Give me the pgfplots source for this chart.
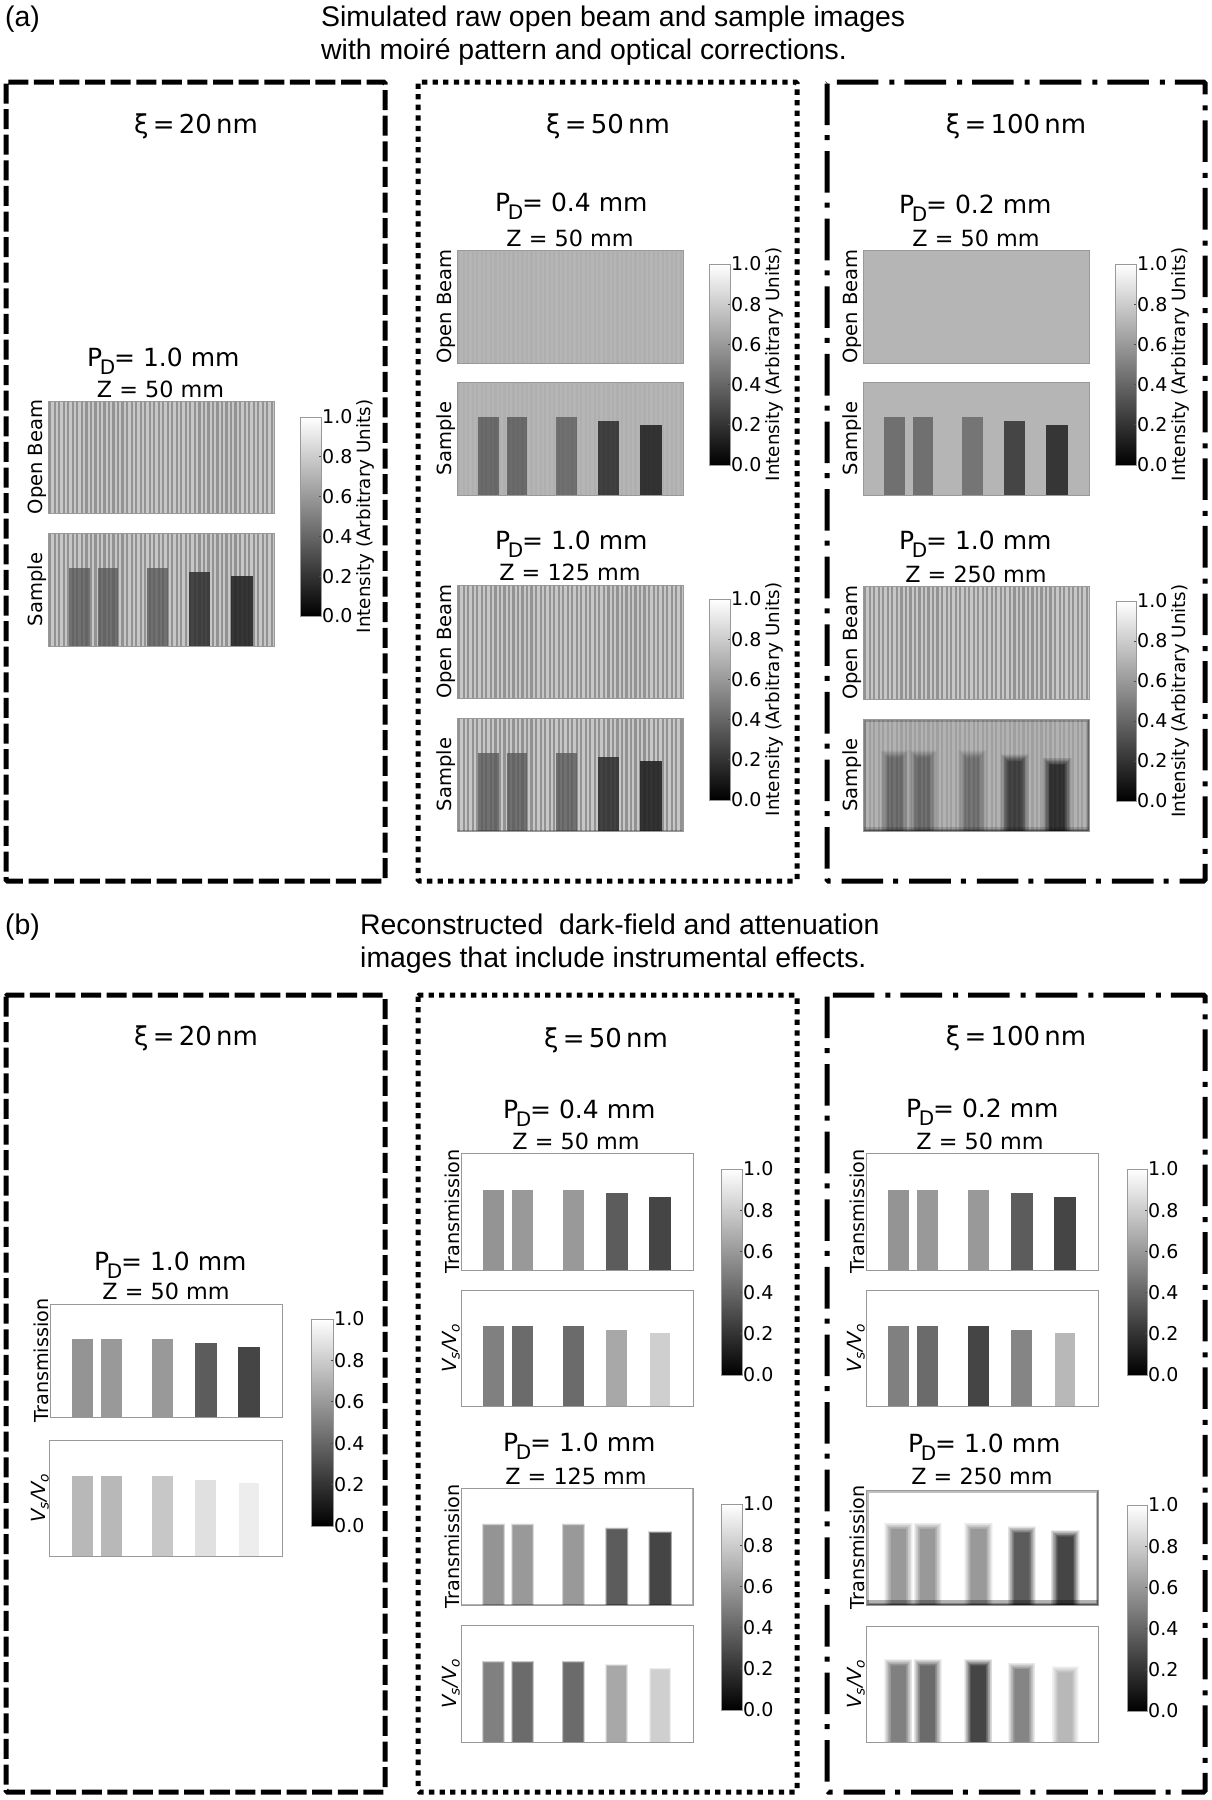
\documentclass[border=0pt]{standalone}
\usepackage{fontspec}
\setmainfont{DejaVu Sans}
\newfontfamily\lib{Liberation Sans}
\usepackage{pgfplots}
\usepackage{pgfplotstable}
\pgfplotsset{compat=1.18}
\newcommand\fs[1]{\fontsize{#1}{#1}\selectfont}
\pgfplotstableread{
x y
1 50
3 50
5 50
7 50
9 50
11 50
13 50
15 50
17 50
19 50
21 50
23 50
25 50
27 50
29 50
31 50
33 50
35 50
37 50
39 50
41 50
43 50
45 50
47 50
49 50
51 50
53 50
55 50
57 50
59 50
61 50
63 50
65 50
67 50
69 50
71 50
73 50
75 50
77 50
79 50
81 50
83 50
85 50
87 50
89 50
91 50
93 50
95 50
97 50
99 50
}\stripedata
\pgfplotsset{imgstyle/.style={scale only axis,xmin=0,xmax=100,ymin=0,ymax=50,xtick=\empty,ytick=\empty,
  axis line style={white!60!black,line width=1pt},axis on top,
  ylabel style={font=\fs{19.5},inner sep=1pt}}}
\newcommand\imgax[6]{%
 \pgfmathsetmacro\W{#3-#1}\pgfmathsetmacro\H{#4-#2}%
 \begin{axis}[imgstyle,at={(#1pt,-#2pt)},anchor=north west,width=\W pt,height=\H pt,ylabel={#5}]
 #6
 \end{axis}}
\newcommand\bg[1]{\addplot[draw=none,fill=white!#1!black,forget plot] coordinates {(0,0)(100,0)(100,50)(0,50)} --cycle;}
\newcommand\stripes[2]{\addplot[ycomb,no markers,draw=black,opacity=#1,line width=#2pt,forget plot] table[x=x,y=y] {\stripedata};}
\newcommand\rim[2]{\addplot[draw=black,opacity=#1,line width=#2pt,forget plot] coordinates {(0,0)(100,0)(100,50)(0,50)} --cycle;}
\newcommand\band[3]{\addplot[draw=none,fill=black,opacity=#3,forget plot] coordinates {(0,#1)(100,#1)(100,#2)(0,#2)} --cycle;}
% l r h grey background blur
\newcommand\blurbar[6]{%
 \pgfplotsforeachungrouped \k in {1,2,3,4,5,6,7,8,9,10,11}{%
  \pgfmathsetmacro\off{#6*(1-(\k-0.5)/5.5)}%
  \pgfmathtruncatemacro\col{#5+(#4-#5)*\k/11}%
  \pgfmathsetmacro\xa{#1-\off}\pgfmathsetmacro\xb{#2+\off}\pgfmathsetmacro\yt{#3+\off}%
  \edef\tmp{\noexpand\addplot[draw=none,fill=white!\col!black,forget plot] coordinates {(\xa,0)(\xa,\yt)(\xb,\yt)(\xb,0)} --cycle;}\tmp
 }}
\newcommand\sharpbar[4]{\addplot[draw=none,fill=white!#4!black,forget plot] coordinates {(#1,0)(#1,#3)(#2,#3)(#2,0)} --cycle;}
\newcommand\bars[7]{%
 \blurbar{9.4}{18.6}{34.4}{#1}{#6}{#7}\blurbar{22}{31.1}{34.4}{#2}{#6}{#7}\blurbar{43.8}{53.1}{34.4}{#3}{#6}{#7}%
 \blurbar{62.5}{71.8}{32.7}{#4}{#6}{#7}\blurbar{81.1}{90.7}{31.1}{#5}{#6}{#7}}
\newcommand\barsV[7]{%
 \blurbar{9.4}{18.5}{34.3}{#1}{#6}{#7}\blurbar{22}{31.1}{34.3}{#2}{#6}{#7}\blurbar{43.8}{53}{34.3}{#3}{#6}{#7}%
 \blurbar{62.6}{71.5}{32.8}{#4}{#6}{#7}\blurbar{81.5}{90.2}{31.3}{#5}{#6}{#7}}
\newcommand\sbars[5]{%
 \sharpbar{9.4}{18.6}{34.4}{#1}\sharpbar{22}{31.1}{34.4}{#2}\sharpbar{43.8}{53.1}{34.4}{#3}%
 \sharpbar{62.5}{71.8}{32.7}{#4}\sharpbar{81.1}{90.7}{31.1}{#5}}
\newcommand\sbarsV[5]{%
 \sharpbar{9.4}{18.5}{34.3}{#1}\sharpbar{22}{31.1}{34.3}{#2}\sharpbar{43.8}{53}{34.3}{#3}%
 \sharpbar{62.6}{71.5}{32.8}{#4}\sharpbar{81.5}{90.2}{31.3}{#5}}
\newcommand\cbar[5]{%
 \pgfmathsetmacro\W{#3-#1}\pgfmathsetmacro\H{#4-#2}%
 \begin{axis}[scale only axis,at={(#1pt,-#2pt)},anchor=north west,width=\W pt,height=\H pt,
   xmin=0,xmax=1,ymin=0,ymax=1,xtick=\empty,ytick={0,0.2,0.4,0.6,0.8,1},ytick pos=right,yticklabel pos=right,
   axis line style={white!60!black,line width=1pt},axis on top,
   tick style={white!30!black,line width=0.8pt},tickwidth=2.5pt,
   y tick label style={font=\fs{19},/pgf/number format/fixed,/pgf/number format/fixed zerofill,/pgf/number format/precision=1,/pgf/number format/assume math mode=true,inner sep=1pt},
   ylabel near ticks,ylabel={#5},ylabel shift=3pt,ylabel style={font=\fs{18.3},inner sep=0pt}]
 \addplot[draw=none,bottom color=black,top color=white,forget plot] coordinates {(0,0)(1,0)(1,1)(0,1)} --cycle;
 \end{axis}}
\newcommand\lab[4]{\node[anchor=base,inner sep=0pt,font=\fs{#3}] at (#1pt,-#2pt) {#4};}
\newcommand\xilab[3]{\node[anchor=base,inner sep=0pt,font=\fs{26}] at (#1pt,-#2pt) {\spaceskip=0.16em ξ = #3 nm};}
\newcommand\zz[3]{\node[anchor=base,inner sep=0pt,font=\fs{22.3}] at (#1pt,-#2pt) {Z = #3 mm};}
\newcommand\pd[3]{\node[anchor=base west,inner sep=0pt,font=\fs{25}] at (#1pt,-#2pt) {P\kern-2.5pt\raisebox{-0.34em}{\fs{20}D}\kern-1pt= #3 mm};}
\newcommand\ib{Intensity (Arbitrary Units)}
\newcommand\vv{{\itshape V\textsubscript{s}/V\textsubscript{o}}}
\newcommand\tr{\fs{19.2}Transmission}
\begin{document}
\begin{tikzpicture}[x=1pt,y=1pt]
\useasboundingbox (0,0) rectangle (1212,-1800);
\fill[white] (0,0) rectangle (1212,-1800);
% frames
\tikzset{fr/.style={line width=5pt,rounded corners=1.5pt}}
\tikzset{da/.style={fr,dash pattern=on 20pt off 5.6pt},dt/.style={fr,dash pattern=on 5.3pt off 5.3pt},dd/.style={fr,dash pattern=on 41.6pt off 10pt on 5pt off 11pt}}
\draw[da] (6,-82) rectangle (385,-881);
\draw[dt] (418,-82) rectangle (797,-881);
\draw[dd] (827,-82) rectangle (1205,-881);
\draw[da] (6,-995) rectangle (385,-1792);
\draw[dt] (418,-995) rectangle (797,-1792);
\draw[dd] (827,-995) rectangle (1205,-1792);
% titles
\node[anchor=base west,inner sep=0pt,font=\lib\fs{28.4}] at (5,-26) {(a)};
\node[anchor=base west,inner sep=0pt,font=\lib\fs{28.4}] at (321,-26) {Simulated raw open beam and sample images};
\node[anchor=base west,inner sep=0pt,font=\lib\fs{28.4}] at (321,-59) {with moiré pattern and optical corrections.};
\node[anchor=base west,inner sep=0pt,font=\lib\fs{28.4}] at (5,-934) {(b)};
\node[anchor=base west,inner sep=0pt,font=\lib\fs{28.4}] at (360,-934) {Reconstructed\ \ dark-field and attenuation};
\node[anchor=base west,inner sep=0pt,font=\lib\fs{28.4}] at (360,-967) {images that include instrumental effects.};
\xilab{196}{133}{20}\xilab{608}{133}{50}\xilab{1016}{133}{100}
\xilab{196}{1045}{20}\xilab{606}{1047}{50}\xilab{1016}{1045}{100}
% ---- (a) xi=20
\pd{87}{366}{1.0}\zz{160.5}{397}{50}
\imgax{48}{401}{274}{513}{Open Beam}{\bg{78}\stripes{0.26}{2.2}}
\imgax{48}{533}{274}{646}{Sample}{\bg{78}\stripes{0.18}{2.2}\sbars{44}{44}{44}{27}{21}\stripes{0.10}{2.2}}
\cbar{300}{417}{321}{616}{\ib}
% ---- (a) xi=50 top
\pd{495}{211}{0.4}\zz{570}{246}{50}
\imgax{457}{250}{683}{363}{Open Beam}{\bg{71}\stripes{0.03}{2.2}}
\imgax{457}{382}{683}{495}{Sample}{\bg{71}\sbars{42}{42}{44}{25}{20}\stripes{0.03}{2.2}}
\cbar{709}{264}{730}{465}{\ib}
% ---- (a) xi=50 bottom
\pd{495}{549}{1.0}\zz{570}{580}{125}
\imgax{457}{585}{683}{698}{Open Beam}{\bg{78}\stripes{0.26}{2.2}}
\imgax{457}{718}{683}{831}{Sample}{\bg{78}\stripes{0.18}{2.2}\sbars{44}{44}{44}{26}{20}\stripes{0.10}{2.2}\rim{0.25}{2.5}}
\cbar{709}{599}{730}{800}{\ib}
% ---- (a) xi=100 top
\pd{899}{213}{0.2}\zz{976}{246}{50}
\imgax{863}{250}{1089}{363}{Open Beam}{\bg{71}}
\imgax{863}{382}{1089}{495}{Sample}{\bg{71}\sbars{44}{44}{46}{27}{21}}
\cbar{1115}{264}{1136}{465}{\ib}
% ---- (a) xi=100 bottom
\pd{899}{549}{1.0}\zz{976}{582}{250}
\imgax{863}{586}{1089}{699}{Open Beam}{\bg{78}\stripes{0.26}{2.2}}
\imgax{863}{719}{1089}{831}{Sample}{\bg{70}\bars{44}{44}{46}{27}{20}{70}{1.8}\stripes{0.10}{2.2}\rim{0.2}{5}\rim{0.3}{2.5}\band{0}{2}{0.15}}
\cbar{1116}{601}{1136}{801}{\ib}
% ---- (b) xi=20
\pd{94}{1270}{1.0}\zz{166}{1299}{50}
\imgax{50}{1304}{282}{1417}{\tr}{\sbars{58}{60}{60}{36}{27}}
\imgax{50}{1440}{282}{1556}{\vv}{\sbarsV{72}{72}{78}{88}{93}}
\cbar{311}{1319}{333}{1526}{}
% ---- (b) xi=50 top
\pd{503}{1118}{0.4}\zz{576}{1149}{50}
\imgax{461}{1153}{693}{1270}{\tr}{\sbars{58}{60}{60}{36}{27}}
\imgax{461}{1290}{693}{1406}{\vv}{\sbarsV{50}{42}{42}{66}{81}}
\cbar{721}{1169}{742}{1375}{}
% ---- (b) xi=50 bottom
\pd{503}{1451}{1.0}\zz{576}{1484}{125}
\imgax{461}{1488}{693}{1605}{\tr}{\bars{58}{60}{60}{36}{27}{100}{0.5}\rim{0.3}{2.5}}
\imgax{461}{1625}{693}{1742}{\vv}{\barsV{50}{42}{42}{66}{81}{100}{0.5}}
\cbar{721}{1504}{742}{1710}{}
% ---- (b) xi=100 top
\pd{906}{1117}{0.2}\zz{980}{1149}{50}
\imgax{866}{1153}{1098}{1270}{\tr}{\sbars{58}{60}{60}{36}{27}}
\imgax{866}{1290}{1098}{1406}{\vv}{\sbarsV{50}{42}{27}{52}{72}}
\cbar{1127}{1169}{1147}{1375}{}
% ---- (b) xi=100 bottom
\pd{908}{1452}{1.0}\zz{982}{1484}{250}
\imgax{866}{1490}{1098}{1605}{\tr}{\bars{60}{60}{60}{36}{27}{100}{1.6}\rim{0.25}{5}\rim{0.4}{2.5}\band{0}{2.2}{0.3}}
\imgax{866}{1626}{1098}{1742}{\vv}{\barsV{50}{42}{27}{52}{72}{100}{1.6}}
\cbar{1127}{1505}{1147}{1711}{}
\end{tikzpicture}
\end{document}
